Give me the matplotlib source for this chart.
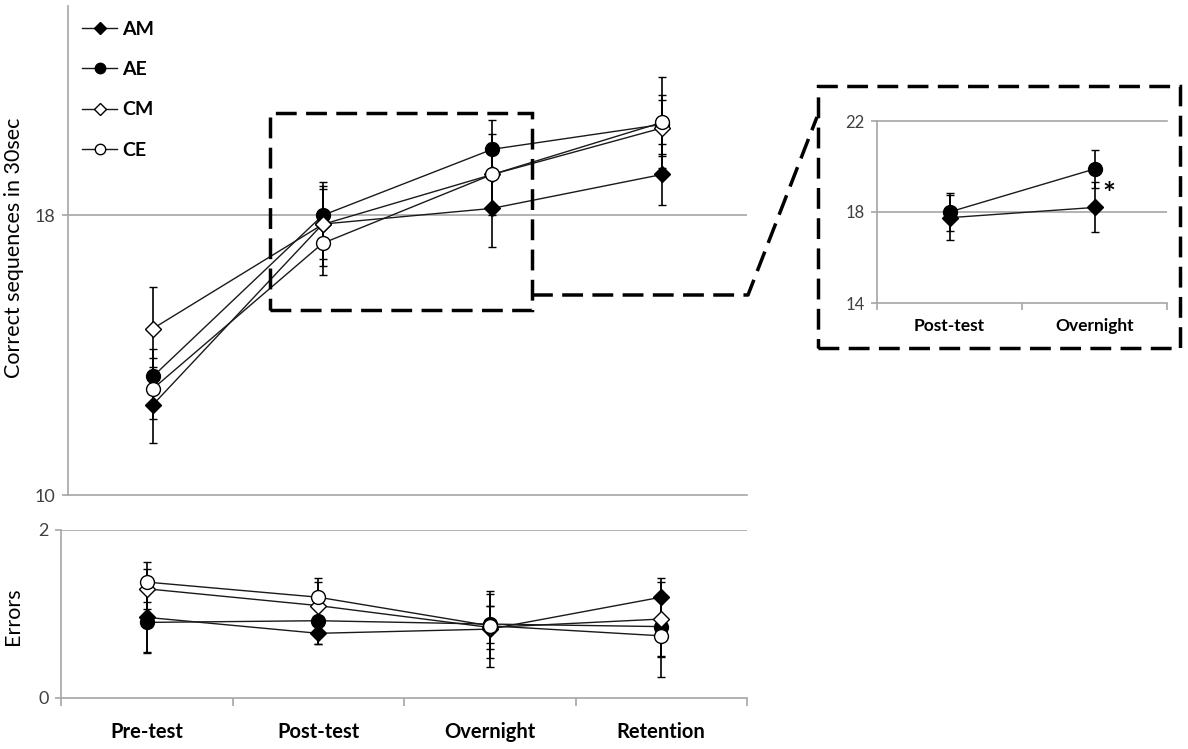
import matplotlib
matplotlib.use("Agg")
import matplotlib.pyplot as plt
from matplotlib.lines import Line2D
from matplotlib.patches import Rectangle

plt.rcParams['font.family'] = ['Lato', 'DejaVu Sans']

# ---- data ----
sessions = ["Pre-test", "Post-test", "Overnight", "Retention"]
groups = ["AM", "AE", "CM", "CE"]

correct = {
    "AM": [12.58, 17.75, 18.2, 19.17],
    "AE": [13.39, 18.0, 19.89, 20.6],
    "CM": [14.76, 17.74, 19.17, 20.5],
    "CE": [13.04, 17.2, 19.17, 20.66],
}
correct_err = {
    "AM": [1.08, 1.0, 1.1, 0.88],
    "AE": [0.8, 0.84, 0.85, 0.85],
    "CM": [1.18, 1.2, 1.15, 0.8],
    "CE": [0.87, 0.9, 0.9, 1.3],
}
errors = {
    "AM": [0.96, 0.77, 0.82, 1.2],
    "AE": [0.9, 0.92, 0.88, 0.85],
    "CM": [1.3, 1.1, 0.84, 0.94],
    "CE": [1.38, 1.2, 0.86, 0.74],
}
errors_err = {
    "AM": [0.41, 0.13, 0.45, 0.23],
    "AE": [0.37, 0.28, 0.22, 0.36],
    "CM": [0.24, 0.28, 0.26, 0.44],
    "CE": [0.24, 0.23, 0.38, 0.49],
}
inset_sessions = ["Post-test", "Overnight"]
inset_groups = ["AM", "AE"]

style = {
    "AM": dict(marker="D", mfc="black", ms=8),
    "AE": dict(marker="o", mfc="black", ms=10),
    "CM": dict(marker="D", mfc="white", ms=8),
    "CE": dict(marker="o", mfc="white", ms=10),
}

W, H = 1188, 749
fig = plt.figure(figsize=(W / 100, H / 100), dpi=100)


def fx(x):
    return x / W


def fy(y):
    return 1 - y / H


GRID = "#a6a6a6"
TXT = "#404040"


def draw(ax, names, values, errs, xs):
    for g in names:
        s = style[g]
        ax.errorbar(xs, values[g], yerr=errs[g], color="#1a1a1a", lw=1.0,
                    ecolor="black", elinewidth=1.2, capsize=3, capthick=1.2,
                    marker=s["marker"], ms=s["ms"], mfc=s["mfc"], mec="black",
                    mew=1.0, zorder=3)


def base_axes(ax):
    for sp in ["top", "right"]:
        ax.spines[sp].set_visible(False)
    for sp in ["left", "bottom"]:
        ax.spines[sp].set_color(GRID)
        ax.spines[sp].set_linewidth(1.2)
    ax.tick_params(axis="y", colors=GRID, labelcolor=TXT, labelsize=13,
                   length=4, width=1.2, pad=5)


xs = [i + 0.5 for i in range(len(sessions))]

# ---- main panel: correct sequences ----
ax1 = fig.add_axes([fx(68), fy(495), fx(747 - 68), (495 - 5.6) / H])
draw(ax1, groups, correct, correct_err, xs)
ax1.set_xlim(0, 4)
ax1.set_ylim(10, 24)
ax1.set_yticks([10, 18])
ax1.set_xticks([])
ax1.axhline(18, color=GRID, lw=1.2, zorder=1)
base_axes(ax1)
handles = [Line2D([], [], color="#1a1a1a", lw=1.0, marker=style[g]["marker"],
                  ms=style[g]["ms"] * 0.75, mfc=style[g]["mfc"], mec="black")
           for g in groups]
ax1.legend(handles, groups, loc="upper left", bbox_to_anchor=(-0.005, 1.005),
           frameon=False, handlelength=1.8, labelspacing=1.2,
           handletextpad=0.25, prop=dict(weight="bold", size=14))

# ---- bottom panel: errors ----
ax2 = fig.add_axes([fx(61), fy(698), fx(747 - 61), (698 - 530) / H])
draw(ax2, groups, errors, errors_err, xs)
ax2.set_xlim(0, 4)
ax2.set_ylim(0, 2)
ax2.set_yticks([0, 2])
ax2.axhline(2, color=GRID, lw=1.2, zorder=1)
base_axes(ax2)
ax2.set_xticks(xs)
ax2.set_xticklabels(sessions, fontsize=14.5, fontweight="bold")
ax2.set_xticks(range(5), minor=True)
ax2.tick_params(axis="x", which="major", length=0, pad=17, labelcolor="black")
ax2.tick_params(axis="x", which="minor", length=6, width=1.2, color=GRID)

# ---- inset: AM vs AE ----
ax3 = fig.add_axes([fx(877), fy(303), fx(1167 - 877), (303 - 121) / H])
ixs = [0.5, 1.5]
sel = slice(1, 3)
draw(ax3, inset_groups, {g: correct[g][sel] for g in inset_groups},
     {g: correct_err[g][sel] for g in inset_groups}, ixs)
ax3.set_xlim(0, 2)
ax3.set_ylim(14, 22)
ax3.set_yticks([14, 18, 22])
ax3.axhline(18, color=GRID, lw=1.2, zorder=1)
ax3.axhline(22, color=GRID, lw=1.2, zorder=1, clip_on=False)
base_axes(ax3)
ax3.tick_params(axis="y", labelsize=12)
ax3.set_xticks(ixs)
ax3.set_xticklabels(inset_sessions, fontsize=12.5, fontweight="bold")
ax3.set_xticks(range(3), minor=True)
ax3.tick_params(axis="x", which="major", length=0, pad=11, labelcolor="black")
ax3.tick_params(axis="x", which="minor", length=5, width=1.2, color=GRID)
ax3.text(1.5 + 0.1, correct["AM"][2] + 0.55, "*", fontsize=22,
         fontweight="bold", ha="center", va="center")

# ---- axis titles ----
fig.text(fx(14), fy(248), "Correct sequences in 30sec", rotation=90,
         ha="center", va="center", fontsize=15.5)
fig.text(fx(13), fy(616), "Errors", rotation=90, ha="center", va="center",
         fontsize=15.5)

# ---- dashed zoom boxes and connector ----
dash = dict(color="black", lw=2.5, linestyle=(0, (6, 2.7)))
fig.add_artist(Rectangle((fx(270), fy(310)), fx(532 - 270), (310 - 113) / H,
                         transform=fig.transFigure, fill=False, **dash))
fig.add_artist(Rectangle((fx(818), fy(348)), fx(1180 - 818), (348 - 86) / H,
                         transform=fig.transFigure, fill=False, **dash))
fig.add_artist(Line2D([fx(532), fx(748), fx(817)], [fy(295), fy(295), fy(117)],
                      transform=fig.transFigure, **dash))

fig.savefig("out.png", dpi=100)
